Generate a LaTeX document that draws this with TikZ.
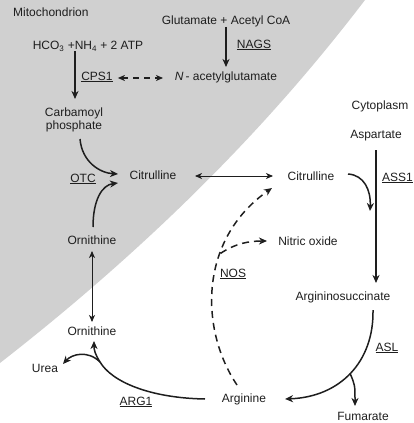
\documentclass[tikz,border=0pt]{standalone}
\usepackage{fontspec}
\setmainfont{Liberation Sans}
\usetikzlibrary{arrows.meta}
\definecolor{mitogray}{RGB}{208,208,208}
\definecolor{ink}{RGB}{30,30,30}
\tikzset{
  lbl/.style={inner sep=0pt, font=\fontsize{12}{14}\selectfont, text=ink},
  arr/.style={draw=ink, line width=1.5pt, -{Stealth[length=8pt,width=7pt,inset=2.5pt]}},
  dbl/.style={draw=ink, line width=0.9pt, {Stealth[length=7pt,width=6pt,inset=2pt]}-{Stealth[length=7pt,width=6pt,inset=2pt]}},
  dsh/.style={draw=ink, line width=1.5pt, dash pattern=on 7pt off 5pt, -{Stealth[length=8pt,width=7pt,inset=2.5pt]}},
  dshd/.style={draw=ink, line width=1.3pt, dash pattern=on 6pt off 5pt, {Stealth[length=7pt,width=6pt,inset=2pt]}-{Stealth[length=7pt,width=6pt,inset=2pt]}},
  ln/.style={draw=ink, line width=1.5pt}
}
\newcommand{\ul}[1]{\underline{#1}}
\begin{document}
\begin{tikzpicture}[x=1pt,y=-1pt]
\useasboundingbox (0,0) rectangle (413,423);
% mitochondrion region
\fill[mitogray] (0,0) -- (365,0) .. controls (300,85) and (190,215) .. (0,363) -- cycle;

% texts
\node[lbl, anchor=west] (mito) at (13,12) {Mitochondrion};
\node[lbl] (glu) at (226,21) {Glutamate + Acetyl CoA};
\node[lbl] (nags) at (254,45) {\ul{NAGS}};
\node[lbl] (nag) at (226,77) {\textit{N}\,- acetylglutamate};
\node[lbl] (hco) at (88,46) {HCO\textsubscript{3} +NH\textsubscript{4} + 2 ATP};
\node[lbl] (cps) at (97,77) {\ul{CPS1}};
\node[lbl, align=center] (carb) at (74,120) {Carbamoyl\\[-1pt]phosphate};
\node[lbl] (otc) at (83,179) {\ul{OTC}};
\node[lbl] (citm) at (153,175) {Citrulline};
\node[lbl] (ornm) at (92,240) {Ornithine};
\node[lbl] (ornc) at (92,331) {Ornithine};
\node[lbl] (urea) at (45,368) {Urea};
\node[lbl] (arg1) at (136,402) {\ul{ARG1}};
\node[lbl] (argi) at (244,399) {Arginine};
\node[lbl] (citc) at (311,176) {Citrulline};
\node[lbl] (no) at (308,241) {Nitric oxide};
\node[lbl] (nos) at (233,274) {\ul{NOS}};
\node[lbl] (cyto) at (380,106) {Cytoplasm};
\node[lbl] (asp) at (376,136) {Aspartate};
\node[lbl, anchor=west] (ass) at (382,178) {\ul{ASS1}};
\node[lbl] (asuc) at (343,297) {Argininosuccinate};
\node[lbl] (asl) at (387,348) {\ul{ASL}};
\node[lbl] (fum) at (363,416) {Fumarate};

% connectors
\draw[arr] (glu.south -| 226,0) -- (226,67) coordinate (nagtop);
\draw[arr] (hco.south -| 75,0) -- (75,99) coordinate (carbtop);
\draw[dshd] (cps.east) ++(5,1) coordinate (c1) -- (163,78) coordinate (c2);
% OTC
\draw[arr] (80,139) .. controls (82,162) and (100,173) .. (118,174);
\draw[arr] (93,227) .. controls (93,200) and (102,185) .. (118,183);
% ornithine <-> ornithine
\draw[dbl] (92,251) -- (92,322);
% citrulline <-> citrulline
\draw[dbl] (195,176) -- (273,176);
% ASS1
\draw[arr] (376,150) -- (376,283);
\draw[arr] (348,174) .. controls (364,175) and (371,190) .. (370,211);
% ASL
\draw[arr] (373,310) .. controls (374,362) and (340,397) .. coordinate[pos=0.5] (bp) (285,399);
\draw[arr] (bp) .. controls (355,385) .. (355,406);
% ARG1
\draw[ln] (205,399) .. controls (150,398) and (112,382) .. (100,362) coordinate (ap);
\draw[arr] (ap) .. controls (95,354) and (94,350) .. (94,341);
\draw[arr] (ap) .. controls (88,350) and (72,354) .. (63,364);
% NOS
\draw[dsh] (237,385) .. controls (200,330) and (198,240) .. coordinate[pos=0.65] (nb) (272,188);
\draw[dsh] (nb) .. controls (236,243) and (250,241) .. (267,241);
\end{tikzpicture}
\end{document}
